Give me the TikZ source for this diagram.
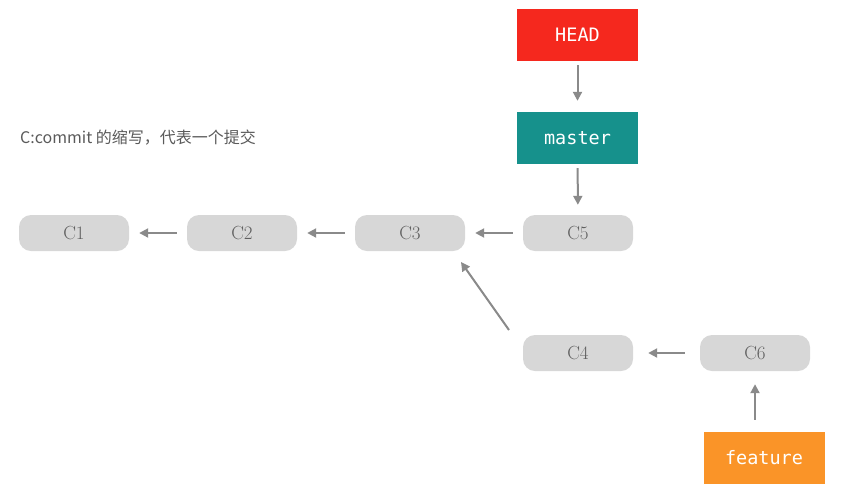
\documentclass[tikz,border=0pt]{standalone}
\usepackage{fontspec}
\newfontfamily\cjk{Noto Sans CJK SC}
\newfontfamily\monof{DejaVu Sans Mono}
\usetikzlibrary{arrows.meta}
\definecolor{headred}{RGB}{245,40,30}
\definecolor{masterteal}{RGB}{22,145,140}
\definecolor{featorange}{RGB}{250,148,40}
\definecolor{commitfill}{RGB}{215,215,215}
\definecolor{committext}{RGB}{95,95,95}
\definecolor{arrowgray}{RGB}{138,138,138}
\definecolor{notegray}{RGB}{90,90,90}
\tikzset{
  commit/.style={fill=commitfill, rounded corners=12pt, minimum width=110pt, minimum height=36pt, text=committext, font=\fontsize{19}{22}\selectfont, inner sep=0pt},
  refbox/.style={minimum width=121pt, minimum height=52pt, text=white, font=\monof\fontsize{18.5}{22}\selectfont, inner sep=0pt},
  conn/.style={draw=arrowgray, line width=2pt, -{Triangle[length=9pt,width=9pt]}}
}
\begin{document}
\begin{tikzpicture}[x=1pt,y=-1pt]
\useasboundingbox (0,0) rectangle (856,499);
\node[commit] (c1) at (74,233) {C1};
\node[commit] (c2) at (242,233) {C2};
\node[commit] (c3) at (410,233) {C3};
\node[commit] (c5) at (578,233) {C5};
\node[commit] (c4) at (578,353) {C4};
\node[commit] (c6) at (755,353) {C6};
\node[refbox, fill=headred] (head) at (577.5,35) {HEAD};
\node[refbox, fill=masterteal] (master) at (577.5,138) {master};
\node[refbox, fill=featorange] (feature) at (764,458) {feature};
\node[anchor=west, text=notegray, font=\cjk\fontsize{16}{19}\selectfont, inner sep=0pt] (note) at (20,138) {C:commit 的缩写，代表一个提交};
\draw[conn, shorten <=4pt, shorten >=11pt] (head) -- (master);
\draw[conn, shorten <=4pt, shorten >=10pt] (master) -- (c5);
\draw[conn, shorten <=10pt, shorten >=10pt] (c5) -- (c3);
\draw[conn, shorten <=10pt, shorten >=10pt] (c3) -- (c2);
\draw[conn, shorten <=10pt, shorten >=10pt] (c2) -- (c1);
\draw[conn, shorten <=15pt, shorten >=15pt] (c6) -- (c4);
\draw[conn, shorten <=12pt, shorten >=13pt] (c6.south |- feature.north) -- (c6.south);
\coordinate (c4tail) at (509,330);
\coordinate (c3tip) at (461,262);
\draw[conn] (c4tail) -- (c3tip);
\end{tikzpicture}
\end{document}
